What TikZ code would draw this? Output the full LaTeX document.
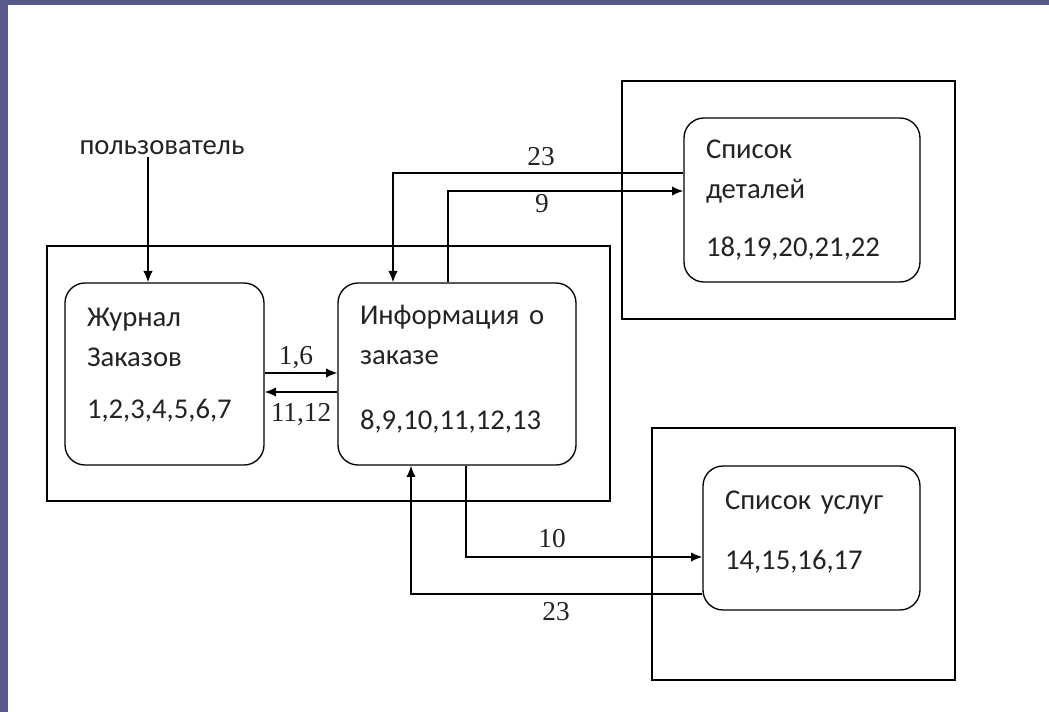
\documentclass[tikz,border=0pt]{standalone}
\usepackage{fontspec}
\setmainfont{Carlito}
\newfontfamily\labelfont{Liberation Serif}
\usetikzlibrary{arrows.meta}
\definecolor{slideblue}{RGB}{88,90,140}
\definecolor{ink}{RGB}{35,35,35}

\begin{document}
\begin{tikzpicture}[x=0.75pt, y=-0.75pt,
  block/.style={draw, line width=1pt, rounded corners=15pt, align=left, inner xsep=16.5pt,
    text=ink, font=\fontsize{21.5}{30}\selectfont},
  frame/.style={draw, line width=1pt, inner sep=0pt},
  flow/.style={line width=1pt, -{Latex[length=8.5pt,width=7pt]}},
  num/.style={anchor=base, inner sep=1pt, text=ink, font=\labelfont\fontsize{20.5}{22}\selectfont}]
%%% slide background %%%
\fill[slideblue] (0,0) rectangle (1049,712);
\fill[white] (8,5) rectangle (1049,712);

%% outer frames
\node[frame, minimum width=422.25pt, minimum height=191.25pt] (sys) at (328.5,373.5) {};
\node[frame, minimum width=249.75pt, minimum height=178.5pt] (detsys) at (788.5,200) {};
\node[frame, minimum width=227.25pt, minimum height=189pt] (uslsys) at (803.5,554) {};

%% blocks
\node[block, minimum width=149.25pt, minimum height=136.5pt, text width=116.25pt, text depth=85.5pt] (zhurnal) at (164.5,374)
  {Журнал\\Заказов\\[9pt]1,2,3,4,5,6,7};
\node[block, minimum width=178.5pt, minimum height=136.5pt, text width=145.5pt, text depth=89pt] (info) at (457,374)
  {Информация о\\заказе\\[19pt]8,9,10,11,12,13};
\node[block, minimum width=177pt, minimum height=123pt, text width=144pt] (deti) at (802,200)
  {Список\\деталей\\[13pt]18,19,20,21,22};
\node[block, minimum width=162.75pt, minimum height=108pt, text width=129.75pt, text depth=57pt] (uslugi) at (811.5,538)
  {Список услуг\\[15pt]14,15,16,17};

\node[inner sep=1pt, text=ink, font=\fontsize{21.5}{24}\selectfont] (user) at (162,148) {пользователь};

%% connectors
\draw[flow] (user.south -| 148,0) -- (zhurnal.north -| 148,0);
%
\draw[flow] (zhurnal.east |- 0,373) -- (info.west |- 0,373);
\draw[flow] (info.west |- 0,392) -- (zhurnal.east |- 0,392);
%
\draw[flow] (deti.west |- 0,173) -| (info.north -| 393,0);
\draw[flow] (info.north -| 448,0) |- (deti.west |- 0,191);
%
\draw[flow] (info.south -| 466,0) |- (uslugi.west |- 0,557);
\draw[flow] (uslugi.west |- 0,594) -| (info.south -| 411,0);

%% labels
\node[num] (l16) at (296,365) {1,6};
\node[num] (l1112) at (301,422) {11,12};
\node[num] (l23a) at (541,166) {23};
\node[num] (l9) at (542,213) {9};
\node[num] (l10) at (552,547) {10};
\node[num] (l23b) at (556,620) {23};

\end{tikzpicture}
\end{document}
